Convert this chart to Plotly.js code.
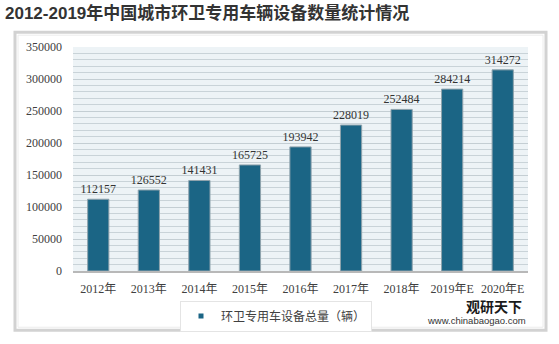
<!DOCTYPE html>
<html>
<head>
<meta charset="utf-8">
<script src="https://cdn.plot.ly/plotly-3.0.1.min.js"></script>
<style>html,body{margin:0;padding:0;background:#fff;}#chart{width:559px;height:344px;}</style>
</head>
<body>
<div id="chart"></div>
<script>
const categories = ["2012年","2013年","2014年","2015年","2016年","2017年","2018年","2019年E","2020年E"];
const values = [112157,126552,141431,165725,193942,228019,252484,284214,314272];
const seriesName = "环卫专用车设备总量（辆）";
const yTicks = [0,50000,100000,150000,200000,250000,300000,350000];
const titleText = "2012-2019年中国城市环卫专用车辆设备数量统计情况";

const W = 559, H = 344;
const L = 73, R = 528, T = 47, B = 274;
const px = x => (x - L) / (R - L);
const py = y => (B - y) / (B - T);
const serif = "Liberation Serif, Noto Sans CJK SC, serif";
const sans = "Liberation Sans, Noto Sans CJK SC, sans-serif";
const barColor = "#1b6585";

const barTrace = {
  type: "bar",
  x: categories,
  y: values,
  name: seriesName,
  showlegend: false,
  marker: {color: barColor, line: {color: "#8fa3ad", width: 1}},
  text: values.map(String),
  textposition: "outside",
  constraintext: "none",
  cliponaxis: false,
  textfont: {family: serif, size: 12, color: "#333"},
  hoverinfo: "x+y"
};

const legendTrace = {
  type: "scatter",
  mode: "markers",
  x: [null], y: [null],
  name: seriesName,
  showlegend: true,
  marker: {symbol: "square", size: 5, color: barColor},
  hoverinfo: "skip"
};

const layout = {
  width: W, height: H,
  margin: {l: L, r: W - R, t: T, b: H - B, pad: 0},
  paper_bgcolor: "#ffffff",
  plot_bgcolor: "#edf3f6",
  bargap: 0.58,
  showlegend: true,
  title: {text: "<b>" + titleText + "</b>", x: 5 / W, xanchor: "left", y: 1 - 13 / H, yanchor: "middle",
    font: {family: sans, size: 17, color: "#333"}},
  xaxis: {
    type: "category",
    showline: true, linecolor: "#b8b8b8", linewidth: 2,
    ticks: "", showgrid: false,
    tickfont: {family: serif, size: 12, color: "#404040"},
    ticklabelstandoff: 6
  },
  yaxis: {
    range: [0, 350000],
    tickvals: yTicks,
    ticktext: yTicks.map(String),
    showline: false, ticks: "",
    showgrid: true, gridcolor: "#c4ced3", gridwidth: 1,
    minor: {dtick: 10000, showgrid: true, gridcolor: "#c9d3d8", gridwidth: 1},
    zeroline: false,
    tickfont: {family: serif, size: 12, color: "#404040"},
    ticklabelstandoff: 10
  },
  legend: {
    orientation: "h",
    x: px(180), xanchor: "left",
    y: py(304), yanchor: "top",
    bgcolor: "#ffffff", bordercolor: "#e4e4e4", borderwidth: 1,
    font: {family: "Noto Sans CJK SC, sans-serif", size: 12, color: "#404040"},
    itemwidth: 30
  },
  shapes: [
    {type: "rect", xref: "paper", yref: "paper", layer: "below",
     x0: px(15), x1: px(546), y0: py(32), y1: py(334),
     line: {color: "#d2d2d2", width: 3}, fillcolor: "rgba(0,0,0,0)"},
    {type: "rect", xref: "paper", yref: "paper", layer: "below",
     x0: px(18), x1: px(543), y0: py(35), y1: py(331),
     line: {color: "#ececec", width: 1}, fillcolor: "rgba(0,0,0,0)"}
  ],
  annotations: [
    {text: "<b>观研天下</b>", xref: "paper", yref: "paper", x: px(494), y: py(309),
     xanchor: "center", yanchor: "middle", showarrow: false,
     font: {family: "Noto Sans CJK SC, sans-serif", size: 14, color: "#1a1a1a"}},
    {text: "www.chinabaogao.com", xref: "paper", yref: "paper", x: px(476), y: py(324),
     xanchor: "center", yanchor: "middle", showarrow: false,
     font: {family: sans, size: 9.5, color: "#333"}}
  ]
};

Plotly.newPlot("chart", [barTrace, legendTrace], layout, {displayModeBar: false, staticPlot: true});
</script>
</body>
</html>
